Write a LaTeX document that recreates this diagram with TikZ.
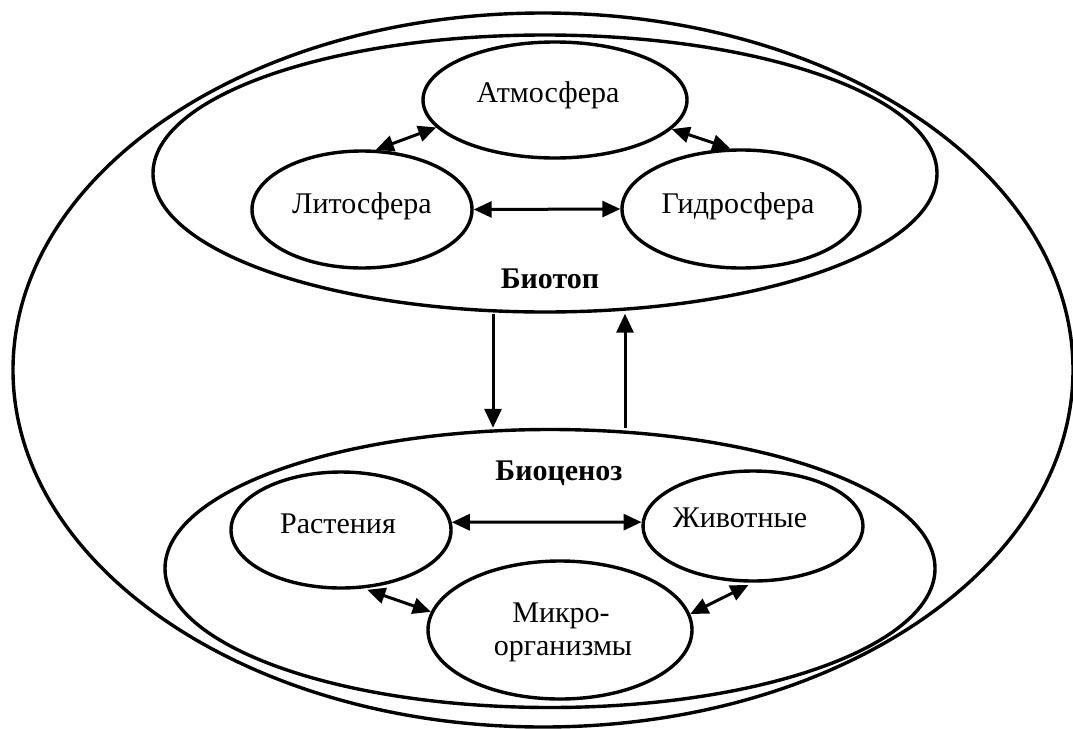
\documentclass[tikz,border=0pt]{standalone}
\usepackage{fontspec}
\setmainfont{Liberation Serif}
\usetikzlibrary{arrows.meta,shapes.geometric}
\begin{document}
\begin{tikzpicture}[x=1pt,y=-1pt,
  ell/.style={draw, ellipse, line width=3.4pt, inner sep=0pt},
  lbl/.style={anchor=base, inner sep=0pt, font=\fontsize{30}{33}\selectfont},
  blbl/.style={anchor=base, inner sep=0pt, font=\fontsize{30}{33}\selectfont\bfseries},
  dbl/.style={{Triangle[length=18pt,width=16pt]}-{Triangle[length=18pt,width=16pt]}, line width=3pt},
  one/.style={-{Triangle[length=19pt,width=17pt]}, line width=3pt}]
\useasboundingbox (0,0) rectangle (1073,728);
% ellipses
\node[ell, minimum width=1060pt, minimum height=714pt] (outer) at (543,370) {};
\node[ell, minimum width=784pt, minimum height=277pt] (bt) at (545,173.5) {};
\node[ell, minimum width=770pt, minimum height=278pt] (bc) at (550,568.5) {};
\node[ell, minimum width=264pt, minimum height=116pt] (atm) at (555,100) {};
\node[ell, minimum width=220pt, minimum height=117pt] (lit) at (362,209.5) {};
\node[ell, minimum width=238pt, minimum height=118pt] (hyd) at (741,209) {};
\node[ell, minimum width=220pt, minimum height=116pt] (ras) at (341,530) {};
\node[ell, minimum width=220pt, minimum height=110pt] (ziv) at (753,526) {};
\node[ell, minimum width=264pt, minimum height=138pt] (mic) at (560,630) {};
% texts
\node[lbl] (tatm) at (548,102) {Атмосфера};
\node[lbl] (tlit) at (362,213) {Литосфера};
\node[lbl] (thyd) at (738,213) {Гидросфера};
\node[blbl] (tbt) at (550,288) {Биотоп};
\node[blbl] (tbc) at (559,480) {Биоценоз};
\node[lbl] (tras) at (338,533) {Растения};
\node[lbl] (tziv) at (740,527) {Животные};
\node[lbl] (tmic1) at (561,622) {Микро-};
\node[lbl] (tmic2) at (563,655) {организмы};
% columns of the vertical connectors
\coordinate (xdown) at (493,0);
\coordinate (xup) at (625,0);
% connectors
\draw[dbl] (atm.193.1) -- (lit.77.7);
\draw[dbl] (atm.346.7) -- (hyd.100.6);
\draw[dbl] (lit.east) -- (hyd.west);
\draw[one] (xdown |- bt.south) -- (xdown |- bc.north);
\draw[one] (xup |- bc.north) -- (xup |- bt.south);
\draw[dbl] (ras.4.2) -- (ziv.178.4);
\draw[dbl, shorten <=4pt] (ras.291.2) -- (mic.172.8);
\draw[dbl, shorten <=5pt] (ziv.270) -- (mic.7.45);
\end{tikzpicture}
\end{document}
